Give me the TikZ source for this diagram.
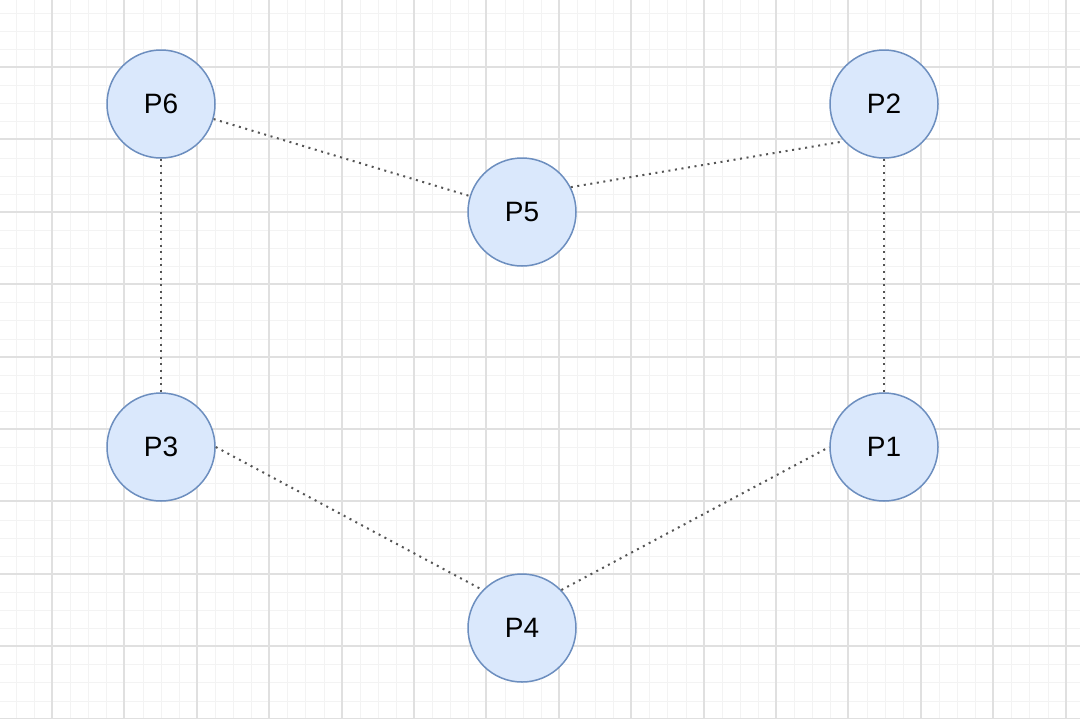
\documentclass[tikz,border=0pt]{standalone}
\usepackage{fontspec}
\setmainfont{Liberation Sans}
\definecolor{nodefill}{HTML}{DAE8FC}
\definecolor{nodedraw}{HTML}{6C8EBF}
\definecolor{gridmajor}{HTML}{E0E0E0}
\definecolor{gridminor}{HTML}{F3F3F3}
\definecolor{edgecol}{HTML}{555555}
\tikzset{
  proc/.style={circle, draw=nodedraw, fill=nodefill, line width=0.75pt, minimum size=54pt, inner sep=0pt, font=\fontsize{14}{16}\selectfont},
  link/.style={draw=edgecol, line width=1pt, dash pattern=on 1pt off 2.3pt},
  minorgrid/.style={draw=gridminor, line width=0.5pt},
  majorgrid/.style={draw=gridmajor, line width=0.6pt}
}
\begin{document}
\begin{tikzpicture}[x=0.5pt, y=-0.5pt]
\useasboundingbox (0,0) rectangle (1080,718);
\fill[white] (0,0) rectangle (1080,718);
\foreach \i in {-2,...,57} {
  \pgfmathsetmacro\xx{round(52+18.1*\i)}
  \draw[minorgrid] (\xx,0) -- (\xx,718);
}
\foreach \j in {-3,...,36} {
  \pgfmathsetmacro\yy{round(67+18.1*\j)}
  \draw[minorgrid] (0,\yy) -- (1080,\yy);
}
\foreach \i in {0,...,14} {
  \pgfmathsetmacro\xx{round(52+72.4*\i)}
  \draw[majorgrid] (\xx,0) -- (\xx,718);
}
\foreach \j in {0,...,9} {
  \pgfmathsetmacro\yy{round(67+72.4*\j)}
  \draw[majorgrid] (0,\yy) -- (1080,\yy);
}
\node[proc] (p6) at (161,104) {P6};
\node[proc] (p2) at (884,104) {P2};
\node[proc] (p5) at (522,212) {P5};
\node[proc] (p3) at (161,447) {P3};
\node[proc] (p1) at (884,447) {P1};
\node[proc] (p4) at (522,628) {P4};
\draw[link] (p6.-16) -- (p5.163);
\draw[link] (p5.27) -- (p2.-137);
\draw[link] (p2.south) -- (p1.north);
\draw[link] (p6.south) -- (p3.north);
\draw[link] (p3.east) -- (p4.136);
\draw[link] (p4.44) -- (p1.west);
\end{tikzpicture}
\end{document}
